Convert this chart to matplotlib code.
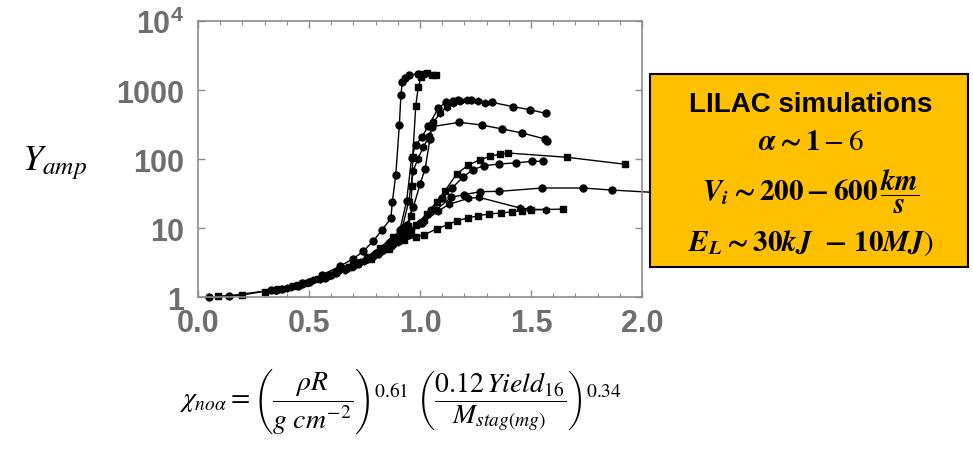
import matplotlib
matplotlib.use('Agg')
from matplotlib import pyplot as plt
from matplotlib.patches import Rectangle
from matplotlib.ticker import FixedLocator, LogLocator, MultipleLocator, NullFormatter

plt.rc('font', family='Liberation Sans')
plt.rc('mathtext', fontset='custom', rm='STIXGeneral', it='STIXGeneral:italic',
       bf='STIXGeneral:bold', bfit='STIXGeneral:bold:italic', sf='Liberation Sans:bold')

# LILAC runs: x = chi_no_alpha, y = yield amplification
x1 = [0.05, 0.14, 0.35, 0.47, 0.56, 0.64, 0.70, 0.745, 0.79, 0.83, 0.869, 0.875, 0.891, 0.907, 0.914, 0.920, 0.932, 0.950, 0.990]
y1 = [1.0, 1.04, 1.28, 1.6, 2.1, 2.8, 3.6, 4.6, 6.5, 9.5, 13.8, 23.5, 59, 311, 847, 1294, 1479, 1650, 1722]

x2 = [0.09, 0.20, 0.43, 0.54, 0.62, 0.70, 0.76, 0.82, 0.88, 0.93, 0.947, 0.959, 0.963, 0.967, 0.981, 0.992, 1.005, 1.015, 1.030, 1.053, 1.071]
y2 = [1.02, 1.07, 1.42, 1.8, 2.3, 3.0, 3.8, 5.2, 7.5, 9.5, 10.8, 15, 40, 106, 592, 1094, 1528, 1706, 1763, 1650, 1650]

x3 = [0.35, 0.50, 0.62, 0.72, 0.80, 0.86, 0.91, 0.94, 0.962, 0.980, 1.008, 1.038, 1.083, 1.117, 1.147, 1.173, 1.23, 1.323, 1.42, 1.495, 1.566]
y3 = [1.25, 1.65, 2.3, 3.1, 4.3, 6.0, 9.5, 25, 103, 160, 206, 304, 548, 664, 702, 710, 716, 664, 573, 518, 459]

x4 = [0.40, 0.52, 0.63, 0.73, 0.81, 0.87, 0.92, 0.95, 0.97, 0.99, 1.015, 1.042, 1.06, 1.09, 1.12, 1.15, 1.18, 1.21, 1.26, 1.293]
y4 = [1.35, 1.75, 2.4, 3.2, 4.5, 6.5, 10, 25, 68, 100, 148, 218, 340, 459, 573, 650, 690, 705, 690, 641]

x5 = [0.45, 0.57, 0.67, 0.76, 0.83, 0.89, 0.94, 0.97, 1.0, 1.023, 1.045, 1.053, 1.177, 1.278, 1.371, 1.461, 1.563, 1.571]
y5 = [1.45, 1.9, 2.6, 3.6, 5.0, 7.0, 11, 20, 43, 72, 195, 294, 340, 311, 272, 238, 195, 181]

x6 = [0.30, 0.45, 0.58, 0.68, 0.77, 0.85, 0.92, 0.98, 1.03, 1.075, 1.113, 1.165, 1.218, 1.270, 1.315, 1.360, 1.398, 1.661, 1.923]
y6 = [1.2, 1.5, 2.0, 2.7, 3.7, 5.2, 7.5, 11, 16, 24, 34.7, 60.6, 81.8, 97.7, 109, 118, 122, 106, 84]

x7 = [0.33, 0.47, 0.60, 0.70, 0.79, 0.87, 0.94, 1.0, 1.05, 1.10, 1.143, 1.192, 1.237, 1.290, 1.357, 1.432, 1.506, 1.553]
y7 = [1.25, 1.55, 2.1, 2.8, 3.9, 5.5, 8, 12, 18, 27, 37.6, 54, 70, 80, 84.7, 88, 92.6, 92.6]

# this one runs on past x=2 and disappears behind the label box
x8 = [0.38, 0.50, 0.62, 0.72, 0.81, 0.88, 0.95, 1.01, 1.07, 1.140, 1.20, 1.270, 1.357, 1.551, 1.733, 1.863, 2.30]
y8 = [1.3, 1.65, 2.2, 3.0, 4.2, 5.8, 8.3, 12, 18, 27.8, 30.5, 33.6, 34, 38, 38, 35.5, 29.6]

x9 = [0.42, 0.55, 0.66, 0.75, 0.83, 0.90, 0.96, 1.02, 1.08, 1.13, 1.218, 1.267, 1.45, 1.495, 1.566]
y9 = [1.4, 1.85, 2.5, 3.3, 4.6, 6.3, 8.7, 12.5, 17.5, 22, 26.9, 27.8, 19.5, 18.7, 18.5]

x10 = [0.36, 0.48, 0.59, 0.69, 0.78, 0.86, 0.93, 0.98, 1.019, 1.075, 1.125, 1.168, 1.218, 1.263, 1.312, 1.364, 1.416, 1.458, 1.5, 1.643]
y10 = [1.3, 1.6, 2.05, 2.7, 3.6, 5.0, 6.6, 7.4, 8.0, 9.7, 11.2, 12.8, 14, 15.1, 16, 16.5, 17.2, 17.8, 18.3, 18.8]

runs = [(x1, y1, 'o'), (x2, y2, 's'), (x3, y3, 'o'), (x4, y4, 'h'), (x5, y5, 'o'),
        (x6, y6, 's'), (x7, y7, 'o'), (x8, y8, 'o'), (x9, y9, 'h'), (x10, y10, 's')]

xticks = [0.0, 0.5, 1.0, 1.5, 2.0]
xticklabels = ['0.0', '0.5', '1.0', '1.5', '2.0']
yticks = [1, 10, 100, 1000, 10000]
yticklabels = ['1', '10', '100', '1000', r'$\mathsf{10^{4}}$']

grey = '#6e6e6e'
fig = plt.figure(figsize=(9.73, 4.52), dpi=100)
ax = fig.add_axes([0.2035, 0.3407, 0.4563, 0.6106])

for xs, ys, mk in runs:
    ax.plot(xs, ys, color='black', lw=1.0, marker=mk, ms=5, mfc='black', mec='black',
            clip_on=False)

ax.set_yscale('log')
ax.set_xlim(0, 2)
ax.set_ylim(1, 1e4)
ax.xaxis.set_major_locator(FixedLocator(xticks))
ax.xaxis.set_minor_locator(MultipleLocator(0.1))
ax.set_xticklabels(xticklabels)
ax.yaxis.set_major_locator(FixedLocator(yticks))
ax.yaxis.set_minor_locator(LogLocator(base=10, subs=range(2, 10)))
ax.yaxis.set_minor_formatter(NullFormatter())
ax.set_yticklabels(yticklabels)

for s in ax.spines.values():
    s.set_color('#8c8c8c')
    s.set_linewidth(1.2)
ax.tick_params(which='both', direction='in', top=True, right=True, colors='#8c8c8c')
ax.tick_params(which='major', length=5, width=1)
ax.tick_params(which='minor', length=3, width=0.8)
ax.tick_params(axis='both', labelsize=22, labelcolor=grey)
ax.tick_params(axis='y', pad=10)
ax.tick_params(axis='x', pad=8)
for lab in ax.get_xticklabels() + ax.get_yticklabels():
    lab.set_fontweight('bold')

fig.text(0.056, 1 - 163/452, r'$Y_{amp}$', fontsize=26, ha='center', va='center')

fig.text(0.412, 1 - 402/452,
         r'$\chi_{no\alpha} = \left(\dfrac{\rho R}{g\ cm^{-2}}\right)^{0.61}\ '
         r'\left(\dfrac{0.12\,Yield_{16}}{M_{stag(mg)}}\right)^{0.34}$',
         fontsize=20, ha='center', va='center')

box = Rectangle((650/973, 1 - 268/452), 318/973, 193/452, transform=fig.transFigure,
                facecolor='#ffc000', edgecolor='black', lw=1.5, zorder=5)
fig.patches.append(box)

cx = 811/973
fig.text(cx, 1 - 105/452, 'LILAC simulations', fontsize=20, fontweight='bold',
         ha='center', va='center', zorder=6)
fig.text(cx, 1 - 142/452, r'$\mathbfit{\alpha}\mathbf{\sim 1} - 6$', fontsize=21,
         ha='center', va='center', zorder=6)
fig.text(cx, 1 - 192/452,
         r'$\mathbfit{V}_{\mathbfit{i}}\mathbf{\sim 200 - 600}\,\dfrac{\mathbfit{km}}{\mathbfit{s}}$',
         fontsize=21, ha='center', va='center', zorder=6)
fig.text(cx, 1 - 243/452,
         r'$\mathbfit{E}_{\mathbfit{L}}\mathbf{\sim 30}\mathbfit{kJ}\ \ \mathbf{-\ 10}\mathbfit{MJ})$',
         fontsize=21, ha='center', va='center', zorder=6)

fig.savefig('out.png', dpi=100)
